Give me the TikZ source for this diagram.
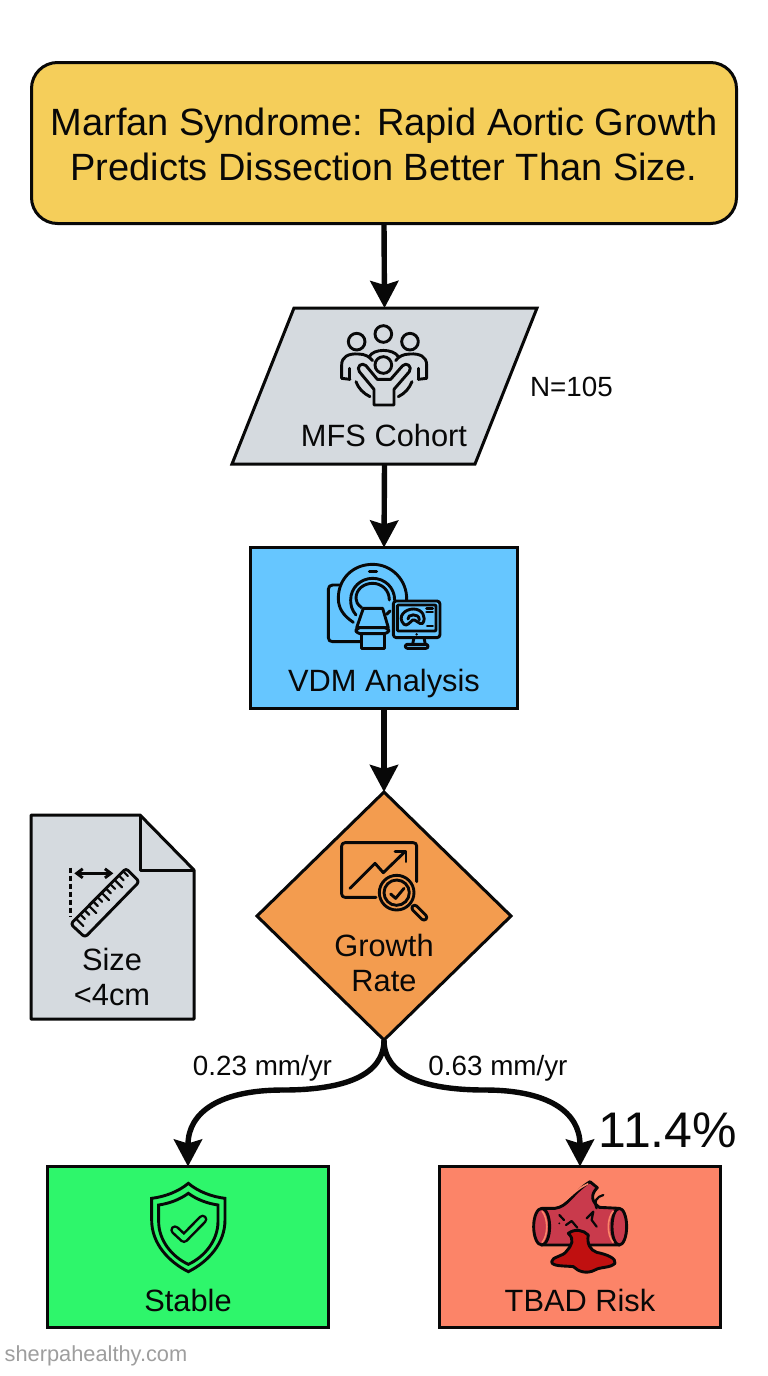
\documentclass[tikz,border=0pt]{standalone}
\usepackage{fontspec}
\setmainfont{Liberation Sans}
\usetikzlibrary{shapes.geometric,arrows.meta,positioning}
\definecolor{titlefill}{HTML}{F5CE5A}
\definecolor{grayfill}{HTML}{D5DADF}
\definecolor{bluefill}{HTML}{66C6FF}
\definecolor{orangefill}{HTML}{F39C4F}
\definecolor{greenfill}{HTML}{2EF66B}
\definecolor{redfill}{HTML}{FC8468}
\definecolor{tube}{HTML}{C93A4C}
\definecolor{blood}{HTML}{C01010}
\definecolor{ink}{HTML}{080808}
\tikzset{
  flowbox/.style={draw=ink,line width=3pt,rectangle,inner sep=0pt,outer sep=0pt},
  flowline/.style={draw=ink,line width=5.4pt,-{Stealth[length=27pt,width=28pt,inset=4pt]}},
  lab/.style={text=ink,inner sep=0pt,align=center,font=\fontsize{30.8}{36}\selectfont},
  small/.style={text=ink,inner sep=0pt,font=\fontsize{27.8}{30}\selectfont},
  icon/.style={draw=ink,line width=2.9pt,line cap=round,line join=round},
}
\begin{document}
\begin{tikzpicture}[x=1pt,y=-1pt]
\useasboundingbox[fill=white] (0,0) rectangle (768,1376);
% Nodes
\node[flowbox,fill=titlefill,rounded corners=26pt,minimum width=705pt,minimum height=161pt] (title) at (384,143) {};
\node[inner sep=0pt,align=center,font=\fontsize{38}{45}\selectfont,text=ink] (titletext) at (384,144) {Marfan Syndrome: Rapid Aortic Growth\\Predicts Dissection Better Than Size.};
\draw[draw=ink,line width=3pt,fill=grayfill,line join=miter] (294,308) -- (537,308) -- (475,464) -- (232,464) -- cycle;
\node[inner sep=0pt,outer sep=0pt,minimum width=243pt,minimum height=156pt] (cohort) at (384.5,386) {};
\node[flowbox,fill=bluefill,minimum width=267pt,minimum height=161pt] (vdm) at (384,628) {};
\node[flowbox,diamond,fill=orangefill,minimum width=254pt,minimum height=248pt] (growth) at (384,916) {};
\node[flowbox,fill=greenfill,minimum width=281pt,minimum height=161pt] (stable) at (188,1247) {};
\node[flowbox,fill=redfill,minimum width=281pt,minimum height=161pt] (tbad) at (580,1247) {};
% Document shape
\draw[draw=ink,line width=3pt,fill=grayfill,line join=round] (31,815) -- (140,815) -- (194,870) -- (194,1019) -- (31,1019) -- cycle;
\draw[draw=ink,line width=3pt,line join=round] (140,815) -- (140,870) -- (194,870);
% Connectors
\draw[flowline] (title.south) -- (cohort.north);
\draw[flowline] (cohort.south) -- (vdm.north);
\draw[flowline] (vdm.south) -- (growth.north);
\coordinate (lmid) at (283,1090);
\coordinate (rmid) at (485,1090);
\draw[draw=ink,line width=5.4pt] (growth.south) .. controls (384,1075) and (345,1090) .. (lmid);
\draw[flowline] (lmid) .. controls (220,1090) and (188,1112) .. (stable.north);
\draw[draw=ink,line width=5.4pt] (growth.south) .. controls (384,1075) and (423,1090) .. (rmid);
\draw[flowline] (rmid) .. controls (548,1090) and (580,1112) .. (tbad.north);
% Labels
\node[lab] (cohortlab) at (384,435) {MFS Cohort};
\node[lab] (vdmlab) at (384,684) {VDM Analysis};
\node[lab] (growthlab) at (384,963) {Growth\\[-0.5pt]Rate};
\node[lab] (sizelab) at (112,977) {Size\\[-0.5pt]<4cm};
\node[lab] (stablelab) at (188,1300) {Stable};
\node[lab] (tbadlab) at (580,1300) {TBAD Risk};
\node[small] (nlab) at (571.5,387) {N=105};
\node[small] (slow) at (262.5,1068) {0.23 mm/yr};
\node[small] (fast) at (498,1068) {0.63 mm/yr};
\node[text=ink,inner sep=0pt,font=\fontsize{50}{60}\selectfont] (risk) at (668,1130) {11.4\%};
\node[text=black!38,inner sep=0pt,font=\fontsize{21.8}{26}\selectfont] (brand) at (96,1356) {sherpahealthy.com};
% People icon
\begin{scope}[shift={(230,300)},x=0.3333pt,y=-0.3333pt]
  \draw[icon] (380,125) circle (25);
  \draw[icon] (460,102) circle (25);
  \draw[icon] (540,125) circle (25);
  \draw[icon] (418,170) .. controls (430,145) and (490,145) .. (505,170);
  \draw[icon] (360,238) -- (335,235) -- (335,195) .. controls (335,170) and (355,160) .. (385,162) .. controls (405,162) and (418,170) .. (428,182);
  \draw[icon] (565,238) -- (590,235) -- (590,195) .. controls (590,170) and (570,160) .. (540,162) .. controls (520,162) and (505,170) .. (497,182);
  \draw[icon] (358,205) -- (358,238);
  \draw[icon] (566,205) -- (566,238);
  \draw[icon] (378,245) .. controls (385,265) and (400,280) .. (420,290);
  \draw[icon] (546,245) .. controls (538,265) and (525,280) .. (505,290);
  \draw[icon,fill=grayfill] (432,315) -- (432,268) -- (388,215) .. controls (378,200) and (395,185) .. (408,197) -- (442,238) -- (482,238) -- (518,197) .. controls (530,185) and (548,200) .. (538,215) -- (492,268) -- (492,315) -- cycle;
  \draw[icon,fill=grayfill] (460,195) circle (25);
\end{scope}
% Scanner icon
\begin{scope}[shift={(250,545)},x=0.3333pt,y=-0.3333pt]
  \draw[icon] (272,120) -- (248,120) .. controls (240,120) and (235,125) .. (235,133) -- (235,278) .. controls (235,286) and (240,290) .. (248,290) -- (335,290);
  \draw[icon] (310,232) .. controls (280,212) and (265,190) .. (265,160) .. controls (265,100) and (310,58) .. (368,58) .. controls (425,58) and (472,105) .. (470,165);
  \draw[icon] (358,80) -- (380,80);
  \draw[icon] (318,210) .. controls (305,195) and (302,180) .. (302,165) .. controls (302,128) and (332,100) .. (368,100) .. controls (405,100) and (434,128) .. (434,165);
  \draw[icon] (335,188) .. controls (322,178) and (318,170) .. (318,160) .. controls (318,132) and (342,115) .. (368,115) .. controls (395,115) and (418,135) .. (418,165);
  \draw[icon] (410,208) -- (420,198);
  \draw[icon,fill=bluefill] (340,190) -- (398,190) -- (415,248) -- (320,248) -- cycle;
  \draw[icon,fill=bluefill] (335,265) rectangle (403,310);
  \draw[icon,fill=bluefill,rounded corners=4pt] (318,248) rectangle (416,266);
  \draw[icon,fill=bluefill,rounded corners=3pt] (430,168) rectangle (570,278);
  \draw[icon,rounded corners=1pt] (442,180) rectangle (558,258);
  \draw[icon] (492,278) -- (488,298);
  \draw[icon] (522,278) -- (526,298);
  \draw[icon,rounded corners=2pt] (466,298) rectangle (534,310);
  \fill[ink] (500,268) circle (4);
  \draw[icon] (462,238) .. controls (440,215) and (465,192) .. (490,192) .. controls (518,192) and (530,218) .. (518,235) .. controls (510,242) and (495,220) .. (488,225) .. controls (480,232) and (470,245) .. (462,238) -- cycle;
  \draw[icon] (474,222) .. controls (470,208) and (508,202) .. (508,225);
  \draw[icon] (530,190) -- (548,190);
  \draw[icon] (530,201) -- (548,201);
  \draw[icon] (532,243) -- (548,243);
\end{scope}
% Ruler icon
\begin{scope}[shift={(20,800)},x=0.3333pt,y=-0.3333pt]
  \draw[icon,line cap=butt,dash pattern=on 5pt off 3pt] (152,203) -- (152,350);
  \draw[icon,<->,>={Straight Barb[length=6pt,width=9pt]}] (163,220) -- (280,220);
  \draw[icon,rounded corners=3pt] (318,205) -- (358,245) -- (195,412) -- (152,372) -- cycle;
  \foreach \i in {0,...,11}{
    \pgfmathsetmacro{\px}{170+\i*12.9}
    \pgfmathsetmacro{\py}{358-\i*12.9}
    \pgfmathsetmacro{\len}{mod(\i,3)==0 ? 20 : 12}
    \draw[icon,line width=2.2pt] (\px,\py) -- ++(\len,\len);
  }
\end{scope}
% Chart icon
\begin{scope}[shift={(300,820)},x=0.3333pt,y=-0.3333pt]
  \draw[icon] (228,232) -- (135,232) .. controls (129,232) and (125,228) .. (125,222) -- (125,78) .. controls (125,72) and (129,68) .. (135,68) -- (340,68) .. controls (346,68) and (350,72) .. (350,78) -- (350,185);
  \draw[icon] (150,205) -- (225,130) -- (250,158) -- (315,95);
  \draw[icon] (285,95) -- (318,95) -- (318,125);
  \draw[icon] (290,218) circle (52);
  \draw[icon] (290,218) circle (38);
  \draw[icon] (272,222) -- (287,235) -- (312,205);
  \draw[icon,rounded corners=3pt] (332,264) -- (344,252) -- (384,292) -- (372,304) -- cycle;
\end{scope}
% Shield icon
\begin{scope}[shift={(120,1170)},x=0.3333pt,y=-0.3333pt]
  \draw[icon,line join=miter] (205,40) .. controls (175,65) and (135,80) .. (95,85) -- (95,150) .. controls (95,220) and (145,275) .. (205,305) .. controls (265,275) and (315,220) .. (315,150) -- (315,85) .. controls (275,80) and (235,65) .. (205,40) -- cycle;
  \draw[icon,line join=miter] (205,70) .. controls (180,88) and (150,100) .. (116,105) -- (116,155) .. controls (116,210) and (155,260) .. (205,283) .. controls (255,260) and (294,210) .. (294,155) -- (294,105) .. controls (260,100) and (230,88) .. (205,70) -- cycle;
  \draw[draw=ink,line width=9.5pt,line cap=round,line join=round] (165,180) -- (192,205) -- (248,148);
  \draw[draw=greenfill,line width=4.4pt,line cap=round,line join=round] (165,180) -- (192,205) -- (248,148);
\end{scope}
% Aorta icon
\begin{scope}[shift={(440,1165)},x=0.3333pt,y=-0.3333pt]
  \draw[icon,fill=tube] (305,130) -- (345,130) .. controls (385,125) and (395,85) .. (450,50) -- (472,68) .. controls (450,90) and (455,110) .. (478,127) -- (538,130) -- (538,240) -- (305,240) -- cycle;
  \draw[draw=redfill,line width=1.6pt] (345,120) .. controls (385,112) and (395,78) .. (445,56);
  \draw[icon,line width=2.2pt] (490,90) .. controls (470,95) and (460,110) .. (470,130);
  \draw[icon,fill=tube] (305,185) ellipse (24 and 55);
  \draw[icon,draw=ink,fill=tube] (538,185) ellipse (22 and 55);
  \draw[draw=redfill,line width=1.6pt] (306,138) .. controls (325,160) and (325,210) .. (306,233);
  \draw[draw=redfill,line width=1.6pt] (520,138) .. controls (500,160) and (500,210) .. (520,233);
  \draw[icon,line width=2.2pt] (358,150) -- (372,165);
  \draw[icon,line width=2.2pt] (378,180) -- (395,168) -- (412,188);
  \draw[icon,line width=2.2pt] (440,160) -- (460,140) -- (455,165) -- (470,185);
  \fill[ink] (358,175) circle (3);
  \draw[icon,fill=blood] (385,205) .. controls (405,190) and (430,195) .. (445,210) .. controls (440,235) and (450,255) .. (470,262) .. controls (500,268) and (530,280) .. (525,295) .. controls (510,310) and (480,305) .. (465,315) .. controls (440,328) and (415,320) .. (400,305) .. controls (375,302) and (335,305) .. (335,290) .. controls (335,275) and (370,275) .. (380,258) .. controls (395,240) and (405,225) .. (385,205) -- cycle;
\end{scope}
\end{tikzpicture}
\end{document}
